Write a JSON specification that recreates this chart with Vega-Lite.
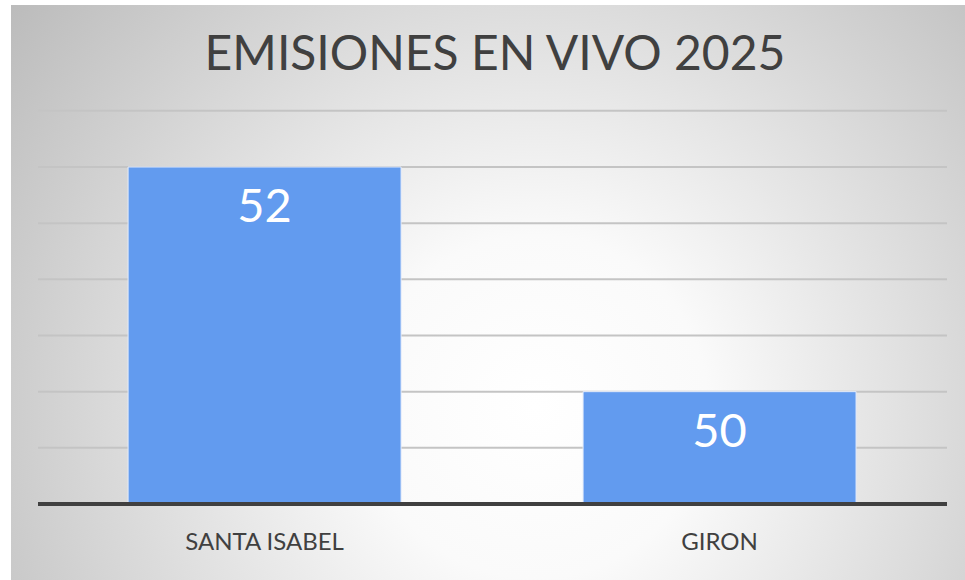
{
  "$schema": "https://vega.github.io/schema/vega-lite/v6.json",
  "width": 954,
  "height": 575,
  "autosize": {"type": "none"},
  "padding": {"left": 11, "top": 5, "right": 0, "bottom": 0},
  "background": "#ffffff",
  "view": {
    "stroke": null,
    "fill": {
      "gradient": "radial",
      "x1": 0.55, "y1": 0.62, "r1": 0,
      "x2": 0.55, "y2": 0.62, "r2": 0.72,
      "stops": [
        {"offset": 0, "color": "#ffffff"},
        {"offset": 0.25, "color": "#fafafa"},
        {"offset": 1, "color": "#b8b8b8"}
      ]
    }
  },
  "title": {
    "text": "EMISIONES EN VIVO 2025",
    "font": "Lato",
    "fontSize": 48,
    "fontWeight": "normal",
    "color": "#404040",
    "anchor": "middle",
    "baseline": "alphabetic",
    "offset": -113,
    "dx": 7
  },
  "data": {
    "values": [
      {"sede": "SANTA ISABEL", "emisiones": 52},
      {"sede": "GIRON", "emisiones": 50}
    ]
  },
  "resolve": {"scale": {"x": "independent"}},
  "layer": [
    {
      "data": {"values": [{"v": 49.5}, {"v": 50}, {"v": 50.5}, {"v": 51}, {"v": 51.5}, {"v": 52}, {"v": 52.5}]},
      "mark": {"type": "rule", "color": "#c4c4c4", "strokeWidth": 2},
      "encoding": {
        "y": {"field": "v", "type": "quantitative", "scale": {"domain": [48.3234, 53.442], "zero": false, "nice": false}, "axis": null},
        "x": {"datum": 0, "type": "quantitative", "scale": {"domain": [-0.029703, 1.019802], "zero": false, "nice": false}, "axis": null},
        "x2": {"datum": 1}
      }
    },
    {
      "mark": {"type": "bar", "color": "#629bef", "stroke": "#e4ecfb", "strokeWidth": 1},
      "encoding": {
        "x": {
          "field": "sede", "type": "nominal", "sort": null,
          "scale": {"type": "band", "paddingInner": 0.4, "paddingOuter": 0.2484, "align": 0.518},
          "axis": {
            "orient": "bottom", "title": null, "domain": false, "ticks": false, "grid": false,
            "labelAngle": 0, "labelFont": "Lato", "labelFontSize": 24, "labelColor": "#404040",
            "labelPadding": 0, "offset": -50
          }
        },
        "y": {"field": "emisiones", "type": "quantitative", "scale": {"domain": [48.3234, 53.442], "zero": false, "nice": false}, "axis": null},
        "y2": {"datum": 49}
      }
    },
    {
      "mark": {"type": "text", "color": "#ffffff", "font": "Lato", "fontSize": 47, "baseline": "alphabetic", "align": "center", "dy": 55},
      "encoding": {
        "x": {"field": "sede", "type": "nominal", "sort": null, "scale": {"type": "band", "paddingInner": 0.4, "paddingOuter": 0.2484, "align": 0.518}, "axis": null},
        "y": {"field": "emisiones", "type": "quantitative", "scale": {"domain": [48.3234, 53.442], "zero": false, "nice": false}, "axis": null},
        "text": {"field": "emisiones", "type": "quantitative"}
      }
    },
    {
      "data": {"values": [{"base": 49}]},
      "mark": {"type": "rule", "color": "#404040", "strokeWidth": 4},
      "encoding": {
        "y": {"field": "base", "type": "quantitative", "scale": {"domain": [48.3234, 53.442], "zero": false, "nice": false}, "axis": null},
        "x": {"datum": 0, "type": "quantitative", "scale": {"domain": [-0.029703, 1.019802], "zero": false, "nice": false}, "axis": null},
        "x2": {"datum": 1}
      }
    }
  ]
}
